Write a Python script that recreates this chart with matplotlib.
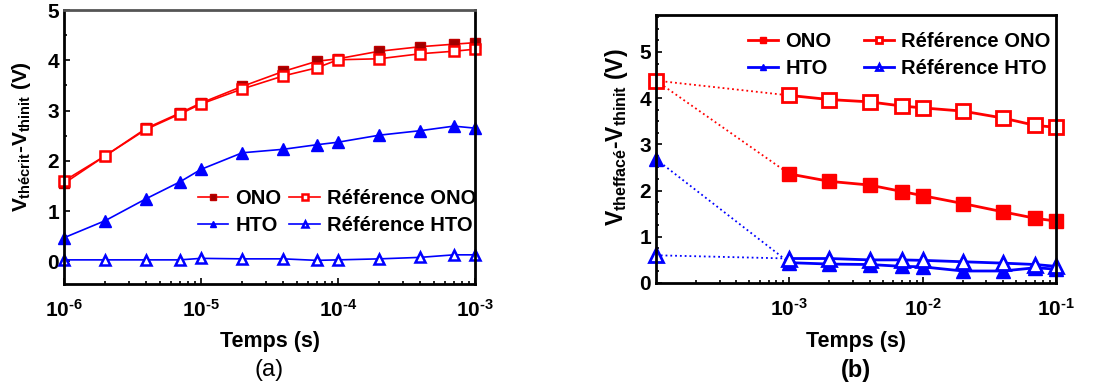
import matplotlib
matplotlib.use('Agg')
import matplotlib.pyplot as plt
from matplotlib.ticker import FixedLocator, LogLocator, MultipleLocator, NullFormatter

plt.rcParams['font.family'] = ['Liberation Sans', 'DejaVu Sans']
plt.rcParams['mathtext.fontset'] = 'custom'
plt.rcParams['mathtext.rm'] = 'Liberation Sans:bold'
plt.rcParams['mathtext.it'] = 'Liberation Sans:bold'
plt.rcParams['mathtext.bf'] = 'Liberation Sans:bold'

# (a) ecriture
t_ecr = [1e-6, 2e-6, 4e-6, 7e-6, 1e-5, 2e-5, 4e-5, 7e-5, 1e-4, 2e-4, 4e-4, 7e-4, 1e-3]
ono_ecr = [1.55, 2.10, 2.65, 2.95, 3.15, 3.48, 3.78, 3.98, 4.03, 4.18, 4.27, 4.32, 4.35]
ref_ono_ecr = [1.60, 2.10, 2.63, 2.93, 3.13, 3.43, 3.69, 3.85, 4.01, 4.03, 4.13, 4.18, 4.22]
hto_ecr = [0.47, 0.81, 1.25, 1.58, 1.83, 2.16, 2.23, 2.32, 2.37, 2.51, 2.60, 2.69, 2.65]
ref_hto_ecr = [0.03, 0.03, 0.03, 0.03, 0.06, 0.05, 0.05, 0.02, 0.03, 0.05, 0.08, 0.13, 0.13]
ticks_ecr = [1e-6, 1e-5, 1e-4, 1e-3]
ticklab_ecr = [r'$10^{\text{-6}}$', r'$10^{\text{-5}}$', r'$10^{\text{-4}}$', r'$10^{\text{-3}}$']

# (b) effacement (premier point = etat initial, relie en pointilles)
t_eff = [1e-4, 1e-3, 2e-3, 4e-3, 7e-3, 1e-2, 2e-2, 4e-2, 7e-2, 1e-1]
ono_eff = [4.38, 2.36, 2.20, 2.12, 1.98, 1.89, 1.72, 1.54, 1.40, 1.34]
ref_ono_eff = [4.38, 4.06, 3.97, 3.92, 3.83, 3.79, 3.72, 3.57, 3.41, 3.37]
hto_eff = [2.68, 0.44, 0.41, 0.40, 0.36, 0.35, 0.26, 0.26, 0.33, 0.30]
ref_hto_eff = [0.60, 0.53, 0.53, 0.50, 0.50, 0.49, 0.46, 0.43, 0.40, 0.36]
ticks_eff = [1e-3, 1e-2, 1e-1]
ticklab_eff = [r'$10^{\text{-3}}$', r'$10^{\text{-2}}$', r'$10^{\text{-1}}$']

labels = ['ONO', 'HTO', 'Référence ONO', 'Référence HTO']

W, H = 1110, 387
fig = plt.figure(figsize=(W / 100, H / 100), dpi=100)
ax1 = fig.add_axes([64 / W, 1 - 284 / H, 411 / W, 274 / H])
ax2 = fig.add_axes([656 / W, 1 - 283 / H, 400 / W, 268 / H])

# ---- (a)
h1, = ax1.plot(t_ecr, ono_ecr, '-s', color='red', mfc='#a00000', mec='#c00000', ms=7, lw=1.2, clip_on=False)
h2, = ax1.plot(t_ecr, ref_ono_ecr, '-s', color='red', mfc='white', mec='red', mew=1.8, ms=7, lw=1.2, clip_on=False)
h3, = ax1.plot(t_ecr, hto_ecr, '-^', color='blue', ms=8, lw=1.2, clip_on=False)
h4, = ax1.plot(t_ecr, ref_hto_ecr, '-^', color='blue', mfc='white', mew=1.8, ms=7, lw=1.2, clip_on=False)
ax1.set_xscale('log')
ax1.set_xlim(1e-6, 1e-3)
ax1.set_ylim(-0.45, 5)
ax1.set_yticks([0, 1, 2, 3, 4, 5])
ax1.yaxis.set_minor_locator(MultipleLocator(0.5))
ax1.xaxis.set_major_locator(FixedLocator(ticks_ecr))
ax1.set_xticklabels(ticklab_ecr)
fig.text(22 / W, 1 - 137 / H, '$V_{thécrit}$-$V_{thinit}$ (V)', rotation=90, ha='center', va='center',
         fontsize=15, fontweight='bold')
fig.text((64 + 475) / 2 / W, 1 - 341 / H, 'Temps (s)', ha='center', va='center', fontsize=15.5, fontweight='bold')
fig.text((64 + 475) / 2 / W, 1 - 370 / H, '(a)', ha='center', va='center', fontsize=17)
fig.legend([h1, h3, h2, h4], labels, ncol=2,
           loc='upper left', bbox_to_anchor=(198 / W, 1 - 189 / H), bbox_transform=fig.transFigure,
           frameon=False, prop={'weight': 'bold', 'size': 14.5}, markerscale=0.6, handlelength=1.5,
           handletextpad=0.35, columnspacing=0.4, labelspacing=0.42, borderpad=0, borderaxespad=0)

# ---- (b)
for vals, c in ((ono_eff, 'red'), (ref_ono_eff, 'red'), (hto_eff, 'blue'), (ref_hto_eff, 'blue')):
    ax2.plot(t_eff[:2], vals[:2], ':', color=c, lw=1.3, clip_on=False)
g1, = ax2.plot(t_eff[1:], ono_eff[1:], '-s', color='red', ms=10, lw=2, clip_on=False)
g2, = ax2.plot(t_eff[1:], ref_ono_eff[1:], '-s', color='red', mfc='white', mew=2, ms=10, lw=2, clip_on=False)
g3, = ax2.plot(t_eff[1:], hto_eff[1:], '-^', color='blue', ms=10, lw=2, clip_on=False)
g4, = ax2.plot(t_eff[1:], ref_hto_eff[1:], '-^', color='blue', mfc='white', mew=2, ms=10, lw=2, clip_on=False)
ax2.plot(t_eff[:1], hto_eff[:1], '^', color='blue', ms=10, clip_on=False)
ax2.plot(t_eff[:1], ref_hto_eff[:1], '^', color='blue', mfc='white', mew=2, ms=10, clip_on=False)
ax2.plot(t_eff[:1], ref_ono_eff[:1], 's', color='red', mfc='white', mew=2, ms=10, clip_on=False)
ax2.set_xscale('log')
ax2.set_xlim(1e-4, 1e-1)
ax2.set_ylim(0, 5.8)
ax2.set_yticks([0, 1, 2, 3, 4, 5])
ax2.yaxis.set_minor_locator(MultipleLocator(0.25))
ax2.xaxis.set_major_locator(FixedLocator(ticks_eff))
ax2.set_xticklabels(ticklab_eff)
fig.text(617 / W, 1 - 137 / H, '$V_{theffacé}$-$V_{thinit}$ (V)', rotation=90, ha='center', va='center',
         fontsize=16.5, fontweight='bold')
fig.text((656 + 1056) / 2 / W, 1 - 341 / H, 'Temps (s)', ha='center', va='center', fontsize=15.5, fontweight='bold')
fig.text((656 + 1056) / 2 / W, 1 - 371 / H, '(b)', ha='center', va='center', fontsize=17, fontweight='bold')
fig.legend([g1, g3, g2, g4], labels, ncol=2,
           loc='upper left', bbox_to_anchor=(748 / W, 1 - 32 / H), bbox_transform=fig.transFigure,
           frameon=False, prop={'weight': 'bold', 'size': 14.5}, markerscale=0.5, handlelength=1.5,
           handletextpad=0.35, columnspacing=1.6, labelspacing=0.42, borderpad=0, borderaxespad=0)

for ax in (ax1, ax2):
    ax.xaxis.set_minor_locator(LogLocator(base=10, subs=range(2, 10)))
    ax.xaxis.set_minor_formatter(NullFormatter())
    ax.tick_params(which='both', direction='in', labelsize=15)
    ax.tick_params(which='major', length=4, width=1.2)
    ax.tick_params(which='minor', length=2.5, width=1.2)
    ax.tick_params(axis='x', pad=11)
    for s in ax.spines.values():
        s.set_linewidth(2)
    for lab in ax.get_yticklabels():
        lab.set_fontweight('bold')
ax1.spines['top'].set_color('#555555')

fig.savefig('out.png', dpi=100)
